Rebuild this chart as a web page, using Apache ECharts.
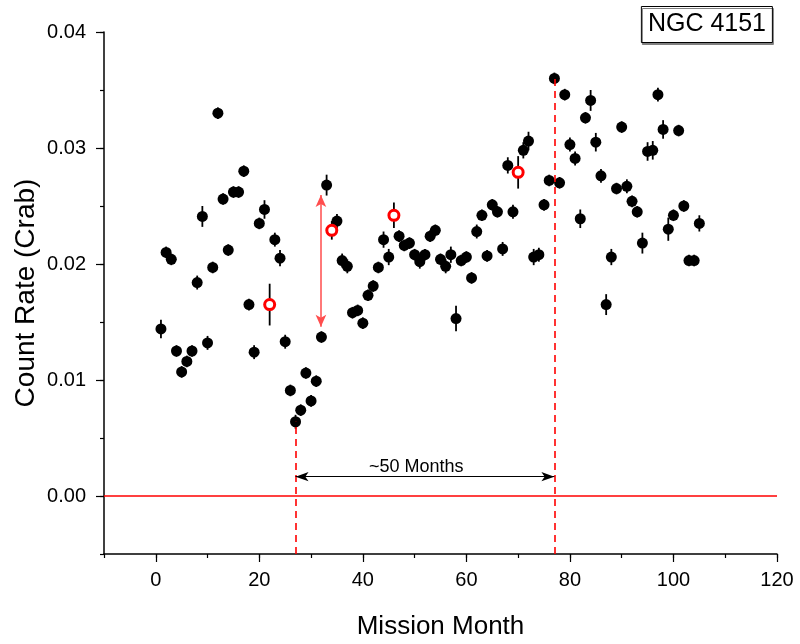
<!DOCTYPE html>
<html>
<head>
<meta charset="utf-8">
<script src="https://cdn.jsdelivr.net/npm/echarts@6/dist/echarts.min.js"></script>
<style>html,body{margin:0;padding:0;background:#fff}#c{width:800px;height:644px}</style>
</head>
<body>
<div id="c"></div>
<script>
// ---- data ----
const blackMonths = [1,2,3,4,5,6,7,8,9,10,11,12,13,14,15,16,17,18,19,20,21,
  23,24,25,26,27,28,29,30,31,32,33,
  35,36,37,38,39,40,41,42,43,44,45,
  47,48,49,50,51,52,53,54,55,56,57,58,59,60,61,62,63,64,65,66,67,68,69,
  71,72,73,74,75,76,77,78,79,80,81,82,83,84,85,86,87,88,89,90,91,92,93,94,95,96,97,98,99,100,101,102,103,104,105];
const blackRates = [0.0144,0.0210,0.0204,0.0125,0.0107,0.0116,0.0125,0.0184,0.0241,0.0132,0.0197,0.0330,0.0256,0.0212,0.0262,0.0262,0.0280,0.0165,0.0124,0.0235,0.0247,
  0.0221,0.0205,0.0133,0.0091,0.0064,0.0074,0.0106,0.0082,0.0099,0.0137,0.0268,
  0.0237,0.0203,0.0198,0.0158,0.0160,0.0149,0.0173,0.0181,0.0197,0.0221,0.0206,
  0.0224,0.0216,0.0218,0.0208,0.0202,0.0208,0.0224,0.0229,0.0204,0.0198,0.0208,0.0153,0.0203,0.0206,0.0188,0.0228,0.0242,0.0207,0.0251,0.0245,0.0213,0.0285,0.0245,
  0.0298,0.0306,0.0206,0.0208,0.0251,0.0272,0.0360,0.0270,0.0346,0.0303,0.0291,0.0239,0.0326,0.0341,0.0305,0.0276,0.0165,0.0206,0.0265,0.0318,0.0267,0.0254,0.0245,0.0218,0.0297,0.0298,0.0346,0.0316,0.0230,0.0242,0.0315,0.0250,0.0203,0.0203,0.0235];
const blackErrors = [0.0008,0.0005,0.0005,0.0005,0.0005,0.0005,0.0005,0.0006,0.0009,0.0006,0.0005,0.0005,0.0005,0.0005,0.0005,0.0005,0.0005,0.0005,0.0006,0.0005,0.0008,
  0.0006,0.0007,0.0006,0.0005,0.0006,0.0005,0.0005,0.0005,0.0005,0.0005,0.0009,
  0.0006,0.0006,0.0006,0.0005,0.0005,0.0005,0.0005,0.0005,0.0005,0.0007,0.0007,
  0.0005,0.0005,0.0005,0.0005,0.0006,0.0005,0.0005,0.0005,0.0005,0.0006,0.0007,0.0011,0.0005,0.0005,0.0005,0.0006,0.0005,0.0005,0.0005,0.0005,0.0006,0.0007,0.0006,
  0.0007,0.0008,0.0007,0.0006,0.0005,0.0005,0.0005,0.0005,0.0005,0.0006,0.0006,0.0008,0.0005,0.0009,0.0008,0.0006,0.0009,0.0007,0.0005,0.0005,0.0006,0.0005,0.0005,0.0009,0.0008,0.0008,0.0006,0.0008,0.0010,0.0005,0.0005,0.0005,0.0005,0.0005,0.0007];
const openMonths = [22,34,46,70];
const openRates = [0.0165,0.0229,0.0242,0.0279];
const openErrors = [0.0018,0.0008,0.0011,0.0014];

const xMajorTicks = [0,20,40,60,80,100,120];
const yMajorTicks = [0,0.01,0.02,0.03,0.04];

const refLines = { zero: 0, start: [27, 0.0064], end: [77, 0.0360] };
const swingArrow = { month: 31.9, low: 0.0146, high: 0.02595 };
const spanArrow = { from: 27, to: 77, rate: 0.00167, label: '~50 Months', labelMonth: 50.3 };

// ---- build ----
const FONT = "'Liberation Sans', Arial, sans-serif";
const blackData = blackMonths.map((m,i)=>[m, blackRates[i], blackErrors[i]]);
const openData = openMonths.map((m,i)=>[m, openRates[i], openErrors[i]]);
const errData = blackData.concat(openData);

const chart = echarts.init(document.getElementById('c'), null, {renderer:'canvas'});
chart.setOption({
  animation: false,
  backgroundColor: '#fff',
  title: {
    text: 'NGC 4151', right: 27, top: 6,
    padding: [6,7,6,7],
    borderColor: '#000', borderWidth: 1, backgroundColor: '#fff',
    shadowColor: '#808080', shadowOffsetX: 1, shadowOffsetY: 2, shadowBlur: 0,
    textStyle: { fontFamily: FONT, fontSize: 25, fontWeight: 'normal', color: '#000' }
  },
  grid: { left: 104, right: 23, top: 32, bottom: 90, outerBoundsMode: 'none' },
  xAxis: [{
    type: 'value', min: -10, max: 120, interval: 10,
    name: 'Mission Month', nameLocation: 'middle', nameGap: 60, nameMoveOverlap: false,
    nameTextStyle: { fontFamily: FONT, fontSize: 26, color: '#000' },
    axisLine: { show: true, onZero: false, lineStyle: { color: '#000', width: 1.5 } },
    axisTick: { show: true, inside: false, length: 4, lineStyle: { color: '#000', width: 1.2 } },
    axisLabel: { show: true, margin: 16, fontFamily: FONT, fontSize: 20, color: '#000',
      formatter: v => (v >= 0 && v % 20 === 0) ? String(v) : '' },
    splitLine: { show: false }
  }, {
    type: 'value', min: -10, max: 120, position: 'bottom', offset: 0,
    axisLine: { show: false, onZero: false },
    axisTick: { show: true, inside: false, length: 8, customValues: xMajorTicks, lineStyle: { color: '#000', width: 1.2 } },
    axisLabel: { show: false },
    splitLine: { show: false }
  }],
  yAxis: [{
    type: 'value', min: -0.005, max: 0.04, interval: 0.005,
    name: 'Count Rate (Crab)', nameLocation: 'middle', nameGap: 64, nameMoveOverlap: false,
    nameTextStyle: { fontFamily: FONT, fontSize: 28, color: '#000' },
    axisLine: { show: true, onZero: false, lineStyle: { color: '#000', width: 1.5 } },
    axisTick: { show: true, inside: false, length: 4, lineStyle: { color: '#000', width: 1.2 } },
    axisLabel: { show: true, margin: 18, fontFamily: FONT, fontSize: 20, color: '#000',
      formatter: v => { const k = Math.round(v*1000); return (k >= 0 && k % 10 === 0) ? v.toFixed(2) : ''; } },
    splitLine: { show: false }
  }, {
    type: 'value', min: -0.005, max: 0.04, position: 'left', offset: 0,
    axisLine: { show: false, onZero: false },
    axisTick: { show: true, inside: false, length: 8, customValues: yMajorTicks, lineStyle: { color: '#000', width: 1.2 } },
    axisLabel: { show: false },
    splitLine: { show: false }
  }],
  series: [
    {
      type: 'scatter', data: [], z: 1, silent: true,
      markLine: {
        silent: true, symbol: 'none', label: { show: false },
        data: [
          { yAxis: refLines.zero, lineStyle: { color: '#ff0000', type: 'solid', width: 1.5 } },
          [ { coord: [refLines.start[0], -0.005], lineStyle: { color: '#ff0000', type: [7,5], width: 1.6 } }, { coord: refLines.start } ],
          [ { coord: [refLines.end[0], -0.005], lineStyle: { color: '#ff0000', type: [7,5], width: 1.6 } }, { coord: refLines.end } ]
        ]
      }
    },
    {
      type: 'scatter', data: [], z: 1, silent: true,
      markLine: {
        silent: true, symbol: ['arrow','arrow'], symbolSize: [8, 12], label: { show: false },
        lineStyle: { color: '#ff4d4d', type: 'solid', width: 1.5, opacity: 1 },
        data: [ [ { coord: [swingArrow.month, swingArrow.low] }, { coord: [swingArrow.month, swingArrow.high] } ] ]
      }
    },
    {
      type: 'scatter', data: [], z: 1, silent: true,
      markLine: {
        silent: true, symbol: ['arrow','arrow'], symbolSize: [7, 13], label: { show: false },
        lineStyle: { color: '#000', type: 'solid', width: 1, opacity: 1 },
        data: [ [ { coord: [spanArrow.from, spanArrow.rate] }, { coord: [spanArrow.to, spanArrow.rate] } ] ]
      }
    },
    {
      type: 'scatter', z: 2, silent: true, symbol: 'circle', symbolSize: 0.1,
      itemStyle: { color: 'rgba(255,255,255,0)', opacity: 1 },
      label: { show: true, position: 'top', distance: 1, formatter: spanArrow.label,
        fontFamily: FONT, fontSize: 18, color: '#000' },
      data: [[spanArrow.labelMonth, spanArrow.rate]]
    },
    {
      type: 'custom', z: 3, silent: true,
      renderItem: function (params, api) {
        const x = api.value(0), y = api.value(1), e = api.value(2);
        const p1 = api.coord([x, y - e]);
        const p2 = api.coord([x, y + e]);
        return { type: 'line', shape: { x1: p1[0], y1: p1[1], x2: p2[0], y2: p2[1] },
          style: { stroke: '#000', lineWidth: 1.8 } };
      },
      encode: { x: 0, y: 1 },
      data: errData
    },
    {
      type: 'scatter', z: 4, silent: true, symbol: 'circle', symbolSize: 11,
      itemStyle: { color: '#000', opacity: 1 },
      data: blackData
    },
    {
      type: 'scatter', z: 5, silent: true, symbol: 'circle', symbolSize: 10,
      itemStyle: { color: '#fff', borderColor: '#ff0000', borderWidth: 3, opacity: 1 },
      data: openData
    }
  ]
});
</script>
</body>
</html>
